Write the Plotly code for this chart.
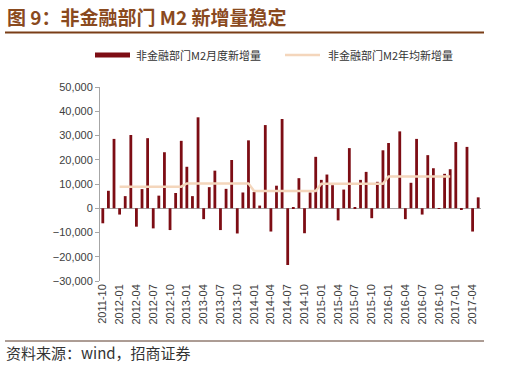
import plotly.graph_objects as go
import pandas as pd

# ---- data ----
months = [d.strftime("%Y-%m") for d in pd.date_range("2011-10-01", "2017-05-01", freq="MS")]

monthly_new = [
    -6200, 7200, 28600,                                                   # 2011-10..12
    -2600, 5000, 30200, -7600, 7900, 28900, -8300, 5200, 23100, -9000, 6300, 27800,   # 2012
    17100, 5000, 37500, -4500, 8700, 15500, -9000, 8000, 19900, -10400, 6500, 28000,  # 2013
    6700, 1100, 34300, -9600, 9300, 36800, -23400, 500, 12400, -10300, 6500, 21200,   # 2014
    11700, 13900, 9500, -5000, 7700, 24800, 300, 11700, 15000, -4100, 10900, 23900,   # 2015
    26900, 0, 31700, -4500, 10500, 28600, -2600, 21900, 16500, -300, 14200, 16100,    # 2016
    27300, -600, 25300, -9600, 4500,                                      # 2017-01..05
]

avg_months = months[3:63]  # 2012-01 .. 2016-12
avg_new = [
    8900, 8900, 8900, 8900, 8900, 8900, 8900, 8900, 8900, 8900, 8900, 8900,
    10200, 10200, 10200, 10200, 10200, 10200, 10200, 10200, 10200, 10200, 10200, 10200,
    7100, 7100, 7100, 7100, 7100, 7100, 7100, 7100, 7100, 7100, 7100, 7100,
    10100, 10100, 10100, 10100, 10100, 10100, 10100, 10100, 10100, 10100, 10100, 10100,
    13100, 13100, 13100, 13100, 13100, 13100, 13100, 13100, 13100, 13100, 13100, 13100,
]

tick_labels = months[::3]

name_bar = "非金融部门M2月度新增量"
name_line = "非金融部门M2年均新增量"
title_text = "图 9：非金融部门 M2 新增量稳定"
source_text = "资料来源：wind，招商证券"

# ---- styling ----
BAR = "#7D0D14"
LINE = "#F4D6BC"
BROWN = "#8A4A1E"
W, H = 506, 366
L, R, T, B = 100, 25, 87, 85
PW, PH = W - L - R, H - T - B


def px_x(px):
    return (px - L) / PW


def px_y(py):
    return (H - B - py) / PH


fig = go.Figure()
fig.add_trace(go.Bar(x=months, y=monthly_new, marker=dict(color=BAR, line=dict(width=0)),
                     showlegend=False, name=name_bar))
fig.add_trace(go.Scatter(x=avg_months, y=avg_new, mode="lines",
                         line=dict(color=LINE, width=2.5), showlegend=False, name=name_line))

fig.update_layout(
    width=W, height=H,
    margin=dict(l=L, r=R, t=T, b=B, autoexpand=False),
    paper_bgcolor="white", plot_bgcolor="white",
    bargap=0.5,
    showlegend=False,
    font=dict(family="Liberation Sans, Arial", size=11, color="#404040"),
    xaxis=dict(type="category", categoryorder="array", categoryarray=months,
               tickmode="array", tickvals=tick_labels, ticktext=tick_labels,
               tickangle=-90, showgrid=False, showline=False, ticks="",
               zeroline=False, range=[-0.5, len(months) - 0.5], automargin=False,
               tickfont=dict(family="Liberation Sans, Arial", size=11, color="#404040")),
    yaxis=dict(range=[-30000, 50000], dtick=10000, tickformat=",", automargin=False,
               showgrid=False, showline=True, linecolor="#A6A6A6", linewidth=1,
               ticks="outside", ticklen=4, tickcolor="#A6A6A6",
               zeroline=True, zerolinecolor="#A6A6A6", zerolinewidth=1,
               tickfont=dict(family="Liberation Sans, Arial", size=11, color="#404040")),
)

# legend drawn by hand (wide swatches as in the reference)
fig.add_shape(type="rect", xref="paper", yref="paper",
              x0=px_x(95), x1=px_x(130), y0=px_y(57.5), y1=px_y(52.5),
              fillcolor=BAR, line=dict(width=0))
fig.add_annotation(xref="paper", yref="paper", x=px_x(134), y=px_y(55),
                   xanchor="left", yanchor="middle", showarrow=False, text=name_bar,
                   font=dict(family="Noto Sans CJK SC", size=11, color="#333333"))
fig.add_shape(type="line", xref="paper", yref="paper",
              x0=px_x(285), x1=px_x(320), y0=px_y(55), y1=px_y(55),
              line=dict(color=LINE, width=2.5))
fig.add_annotation(xref="paper", yref="paper", x=px_x(326), y=px_y(55),
                   xanchor="left", yanchor="middle", showarrow=False, text=name_line,
                   font=dict(family="Noto Sans CJK SC", size=11, color="#333333"))

# title, rules and source note
fig.add_annotation(xref="paper", yref="paper", x=px_x(5), y=px_y(16),
                   xanchor="left", yanchor="middle", showarrow=False,
                   text="<b>" + title_text + "</b>",
                   font=dict(family="Noto Sans CJK SC", size=19, color=BROWN))
fig.add_shape(type="line", xref="paper", yref="paper",
              x0=px_x(5), x1=px_x(484), y0=px_y(32.5), y1=px_y(32.5),
              line=dict(color="#7A3E17", width=2))
fig.add_shape(type="line", xref="paper", yref="paper",
              x0=px_x(5), x1=px_x(484), y0=px_y(341), y1=px_y(341),
              line=dict(color="#5A3A2A", width=1))
fig.add_annotation(xref="paper", yref="paper", x=px_x(4), y=px_y(352),
                   xanchor="left", yanchor="middle", showarrow=False,
                   text=source_text,
                   font=dict(family="Noto Sans CJK SC", size=15, color="#333333"))

fig.write_html("out.html", config={"displayModeBar": False},
               post_script="document.body.style.margin='0';document.body.style.padding='0';")
